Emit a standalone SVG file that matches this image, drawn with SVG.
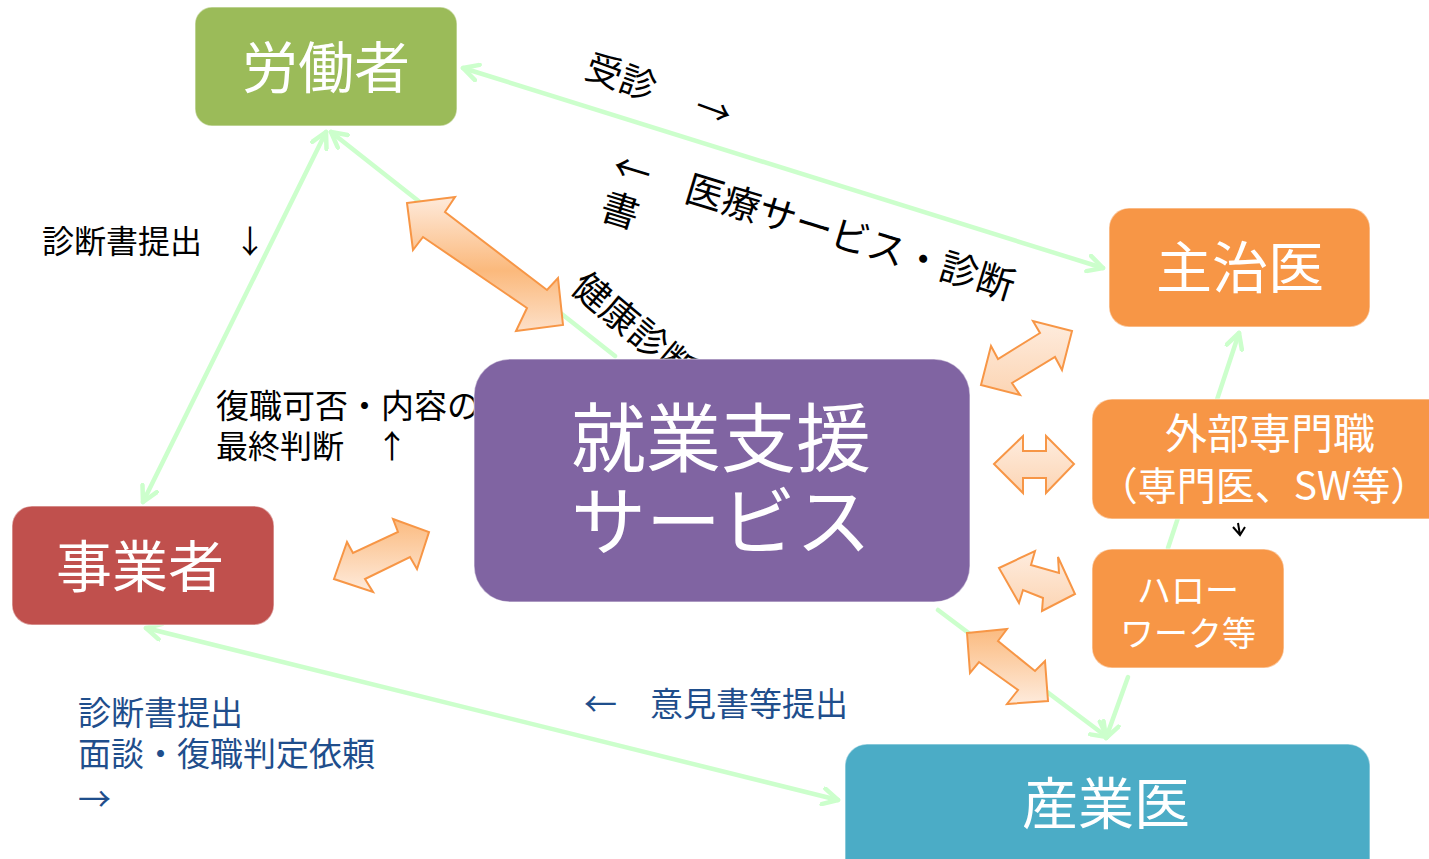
<svg xmlns="http://www.w3.org/2000/svg" width="1429" height="859" viewBox="0 0 1429 859">
<defs>
<style>
.t{font-family:"Noto Sans CJK JP","Noto Sans CJK SC",sans-serif;}
.nt{fill:#fff;text-anchor:middle;}
.lbl{fill:#000;}
.blue{fill:#1F4E8C;}
.conn{stroke:#CCFFCC;stroke-width:4.5;fill:none;stroke-linecap:round;}
.ba{stroke:#F79646;stroke-width:2;stroke-linejoin:miter;}
.box{stroke:#ffffff;stroke-opacity:0.45;stroke-width:1.5;}
</style>
<marker id="ah" viewBox="0 0 20 20" refX="17" refY="10" markerWidth="20" markerHeight="20" markerUnits="userSpaceOnUse" orient="auto-start-reverse">
<path d="M2,2 L17,10 L2,18" fill="none" stroke="#CCFFCC" stroke-width="4.5" stroke-linecap="round" stroke-linejoin="round"/>
</marker>
<linearGradient id="g1" x1="0" y1="0" x2="0" y2="1">
<stop offset="0" stop-color="#FEEADB"/>
<stop offset="0.55" stop-color="#FBB97C"/>
<stop offset="1" stop-color="#FDE0C8"/>
</linearGradient>
<linearGradient id="g2" x1="0" y1="0" x2="0" y2="1">
<stop offset="0" stop-color="#FEECDE"/>
<stop offset="1" stop-color="#FCD5B4"/>
</linearGradient>
<linearGradient id="g3" x1="0" y1="0" x2="0" y2="1">
<stop offset="0" stop-color="#FBBB80"/>
<stop offset="1" stop-color="#FEEBDC"/>
</linearGradient>
</defs>
<rect width="1429" height="859" fill="#ffffff"/>

<g id="connectors">
<line class="conn" x1="463" y1="68" x2="1103" y2="268" marker-start="url(#ah)" marker-end="url(#ah)"/>
<line class="conn" x1="326" y1="132" x2="143" y2="502" marker-start="url(#ah)" marker-end="url(#ah)"/>
<line class="conn" x1="615" y1="356" x2="331" y2="132" marker-end="url(#ah)"/>
<line class="conn" x1="146" y1="628" x2="838" y2="800" marker-start="url(#ah)" marker-end="url(#ah)"/>
<line class="conn" x1="938" y1="610" x2="1107" y2="737" marker-end="url(#ah)"/>
<line class="conn" x1="1128" y1="677" x2="1106" y2="738" marker-end="url(#ah)"/>
<line class="conn" x1="1168" y1="548" x2="1239" y2="333" marker-end="url(#ah)"/>
</g>

<g id="labels">
<text class="t lbl" x="583" y="77" font-size="36" transform="rotate(20 583 77)">受診　<tspan dx="8">→</tspan></text>
<text class="t lbl" x="610" y="178" font-size="38" transform="rotate(17 610 178)">←　医療サービス・診断</text>
<text class="t lbl" x="598" y="218" font-size="38" transform="rotate(17 598 218)">書</text>
<text class="t lbl" x="569" y="290" font-size="37" transform="rotate(40 569 290)">健康診断</text>
<text class="t lbl" x="216" y="418" font-size="33">復職可否・内容の</text>
<text class="t lbl" x="216" y="458" font-size="32">最終判断　↑</text>
<text class="t lbl" x="42" y="253" font-size="32">診断書提出　↓</text>
<text class="t blue" x="78" y="725" font-size="33">診断書提出</text>
<text class="t blue" x="78" y="766" font-size="33">面談・復職判定依頼</text>
<text class="t blue" x="78" y="811" font-size="33">→</text>
<text class="t blue" x="584" y="716" font-size="33">←　意見書等提出</text>
<path d="M1233,527 L1240,535 L1245,527 M1238,523 L1240,535" fill="none" stroke="#000" stroke-width="2"/>
</g>

<g id="block-arrows">
<polygon class="ba" fill="url(#g1)" points="407,203 455,197 445,212 547,290 558,278 563,325 516,331 527,308 423,237 413,250"/>
<polygon class="ba" fill="url(#g2)" points="981,385 991,346 998,359 1040,333 1033,321 1072,331 1062,370 1055,357 1012,383 1020,395"/>
<polygon class="ba" fill="url(#g2)" points="994,464 1023,436 1023,451 1046,451 1046,436 1074,464 1046,493 1046,478 1023,478 1023,493"/>
<polygon class="ba" fill="url(#g2)" points="999,568 1035,551 1031,565 1059,573 1058,557 1075,594 1042,611 1043,598 1023,590 1019,603"/>
<polygon class="ba" fill="url(#g3)" points="967,633 1007,629 998,641 1035,671 1045,661 1048,701 1007,704 1018,690 979,662 970,673"/>
<polygon class="ba" fill="url(#g3)" points="334,579 347,542 353,553 398,532 393,519 429,532 417,569 410,557 365,579 373,592"/>
</g>

<g id="node-worker">
<rect class="box" x="195" y="7" width="262" height="119" rx="17" fill="#9BBB59"/>
<text class="t nt" x="326" y="88" font-size="56">労働者</text>
</g>
<g id="node-doctor">
<rect class="box" x="1109" y="208" width="261" height="119" rx="20" fill="#F79646"/>
<text class="t nt" x="1240" y="288" font-size="56">主治医</text>
</g>
<g id="node-specialist">
<rect class="box" x="1092" y="399" width="360" height="120" rx="20" fill="#F79646"/>
<text class="t nt" x="1270" y="449" font-size="42">外部専門職</text>
<text class="t nt" x="1264" y="500" font-size="39">（専門医、SW等）</text>
</g>
<g id="node-hellowork">
<rect class="box" x="1092" y="549" width="192" height="119" rx="20" fill="#F79646"/>
<text class="t nt" x="1188" y="603" font-size="34">ハロー</text>
<text class="t nt" x="1188" y="646" font-size="34">ワーク等</text>
</g>
<g id="node-employer">
<rect class="box" x="12" y="506" width="262" height="119" rx="20" fill="#C0504D"/>
<text class="t nt" x="140" y="587" font-size="56">事業者</text>
</g>
<g id="node-occupational">
<rect class="box" x="845" y="744" width="525" height="140" rx="22" fill="#4BACC6"/>
<text class="t nt" x="1106" y="824" font-size="56">産業医</text>
</g>
<g id="node-support">
<rect class="box" x="474" y="359" width="496" height="243" rx="36" fill="#8064A2"/>
<text class="t nt" x="721" y="466" font-size="75">就業支援</text>
<text class="t nt" x="721" y="549" font-size="75">サービス</text>
</g>
</svg>
